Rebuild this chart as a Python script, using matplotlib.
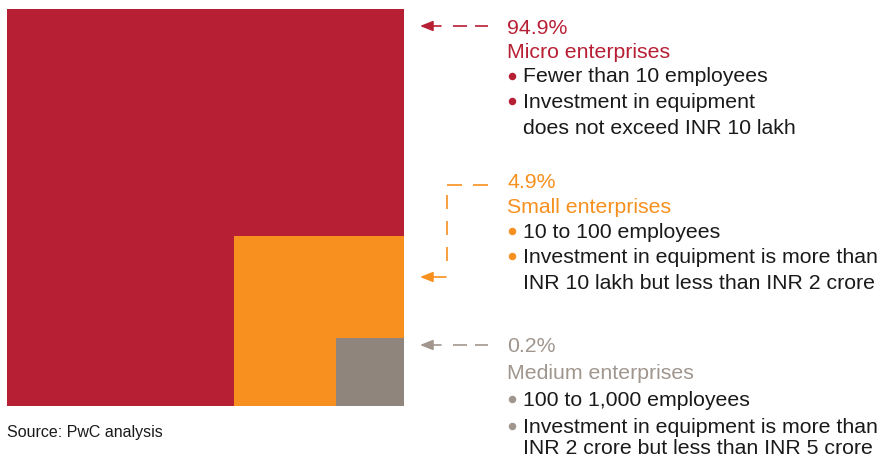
import matplotlib
matplotlib.use("Agg")
import matplotlib.pyplot as plt
from matplotlib.patches import Rectangle

plt.rcParams["font.family"] = ["Liberation Sans", "DejaVu Sans"]

# --- data -------------------------------------------------------------
categories = ["Micro enterprises", "Small enterprises", "Medium enterprises"]
shares = [94.9, 4.9, 0.2]
bullets = [
    [["Fewer than 10 employees"],
     ["Investment in equipment", "does not exceed INR 10 lakh"]],
    [["10 to 100 employees"],
     ["Investment in equipment is more than",
      "INR 10 lakh but less than INR 2 crore"]],
    [["100 to 1,000 employees"],
     ["Investment in equipment is more than",
      "INR 2 crore but less than INR 5 crore"]],
]
source = "Source: PwC analysis"

# --- styling / layout (pixel coordinates) -----------------------------
fill_colors = ["#B72034", "#F7901E", "#8F857D"]
text_colors = ["#B72034", "#F7901E", "#A0968E"]
body_color = "#1A1A1A"
square_side = [397, 170, 68]        # nested squares, anchored bottom-right
corner = (404, 406)
label_top = [28, 183, 347]          # y of the percentage line
line_h = [24.5, 24.5, 26.5]
wrap_h = [26, 26, 21.5]             # spacing of a wrapped bullet line
x_head, x_dot, x_text = 507, 511.5, 523
fs = 15.35

fig = plt.figure(figsize=(8.84, 4.58), dpi=100)
ax = fig.add_axes([0, 0, 1, 1])
ax.set_xlim(0, 884)
ax.set_ylim(458, 0)
ax.axis("off")

for side, col in zip(square_side, fill_colors):
    ax.add_patch(Rectangle((corner[0] - side, corner[1] - side), side, side,
                           facecolor=col, edgecolor="none"))

for i, (cat, share) in enumerate(zip(categories, shares)):
    y = label_top[i]
    h = line_h[i]
    ax.text(x_head, y, f"{share:.1f}%", color=text_colors[i], fontsize=fs,
            va="center", ha="left")
    ax.text(x_head, y + h, cat, color=text_colors[i], fontsize=fs,
            va="center", ha="left")
    yy = y + 2 * h
    for item in bullets[i]:
        ax.plot([x_dot], [yy - 1.5], marker="o", markersize=5.4,
                color=text_colors[i], markeredgewidth=0)
        for k, line in enumerate(item):
            ax.text(x_text, yy, line, color=body_color, fontsize=fs,
                    va="center", ha="left")
            yy += wrap_h[i] if k < len(item) - 1 else h + 1

head = dict(arrowstyle="-|>,head_length=0.55,head_width=0.22", lw=1.2,
            mutation_scale=14, shrinkA=0, shrinkB=0)

# micro and medium: arrow + dashed line straight across
for i in (0, 2):
    y = label_top[i] - 2
    c = fill_colors[i] if i == 0 else text_colors[i]
    ax.annotate("", xy=(420, y), xytext=(441, y),
                arrowprops=dict(color=c, **head))
    ax.plot([453, 488], [y, y], color=c, lw=1.2, linestyle=(0, (8.4, 4.8)))

# small: dashed elbow down to the orange square
c = fill_colors[1]
y0 = label_top[1] + 2
ax.plot([447, 488], [y0, y0], color=c, lw=1.2, linestyle=(0, (9.0, 6.6)))
ax.plot([447, 447], [195, 264], color=c, lw=1.2, linestyle=(0, (8.4, 7.2)))
ax.annotate("", xy=(420, 277), xytext=(446, 277),
            arrowprops=dict(color=c, **head))

ax.text(7, 433, source, color=body_color, fontsize=11.5, va="center",
        ha="left")

fig.savefig("out.png", dpi=100)
